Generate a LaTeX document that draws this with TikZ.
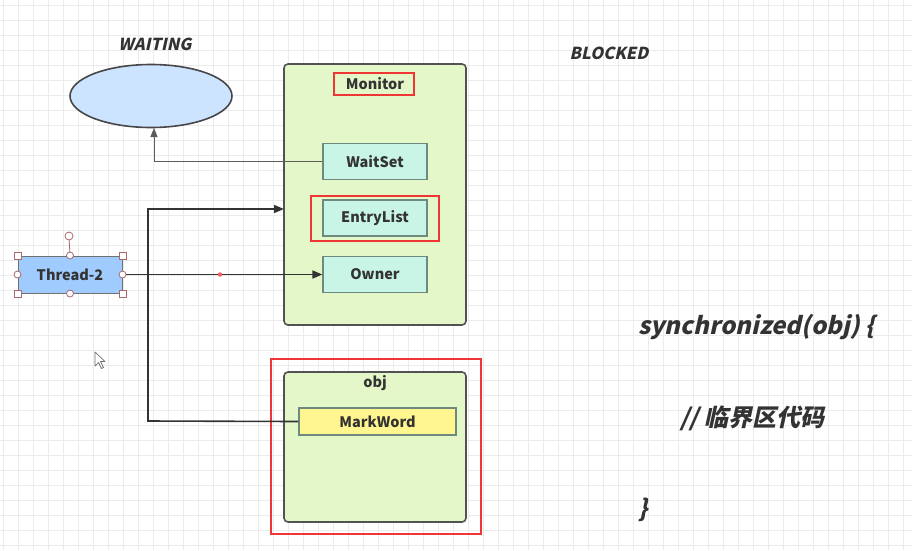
\documentclass[tikz,border=0pt]{standalone}
\usepackage{fontspec}
\setmainfont{Noto Sans CJK SC}
\newfontfamily\slfont{Noto Sans CJK SC}[FakeSlant=0.22]
\usetikzlibrary{shapes.geometric,arrows.meta}
\definecolor{gridc}{HTML}{EBEBEB}
\definecolor{ink}{HTML}{333333}
\definecolor{panelfill}{HTML}{E4F7C9}
\definecolor{mintfill}{HTML}{C8F5E6}
\definecolor{mintline}{HTML}{6E8A7E}
\definecolor{ellfill}{HTML}{CCE4FF}
\definecolor{thrfill}{HTML}{9FCBFF}
\definecolor{yelfill}{HTML}{FFF68F}
\definecolor{hred}{HTML}{F03535}
\definecolor{handle}{HTML}{A86A6A}
\tikzset{
  panel/.style={draw=ink!85, fill=panelfill, line width=1.6pt, rounded corners=4pt, inner sep=0pt},
  mbox/.style={draw=mintline, fill=mintfill, line width=1.3pt, minimum width=104pt, minimum height=36pt, inner sep=0pt, font=\fontsize{14.5}{16}\selectfont\bfseries, text=ink},
  lbl/.style={font=\fontsize{14.5}{16}\selectfont\bfseries, text=ink, inner sep=0pt},
  state/.style={font=\slfont\fontsize{16.5}{18}\selectfont\bfseries, text=ink, inner sep=0pt},
  code/.style={font=\slfont\fontsize{24}{27}\selectfont\bfseries, text=ink, inner sep=0pt, anchor=west},
  hilite/.style={draw=hred, line width=1.8pt, fill=none, inner sep=0pt},
  conn/.style={draw=ink, line width=1.6pt},
  arr/.style={conn, -{Triangle[length=10pt,width=8pt]}},
  thinarr/.style={draw=ink!80, line width=1pt, -{Triangle[length=9pt,width=7pt]}},
  hsq/.style={draw=handle, fill=white, line width=0.8pt, minimum size=7pt, inner sep=0pt},
  hci/.style={draw=handle, fill=white, line width=0.8pt, circle, minimum size=8pt, inner sep=0pt},
}
\begin{document}
\begin{tikzpicture}[x=1pt,y=-1pt]
\useasboundingbox (0,0) rectangle (912,550);
\fill[white] (0,0) rectangle (912,550);
% grid
\foreach \i in {0,...,61} {
  \pgfmathsetmacro{\xx}{3+15*\i}
  \draw[gridc, line width=0.8pt] (\xx,0) -- (\xx,550);
}
\foreach \i in {0,...,37} {
  \pgfmathsetmacro{\yy}{5+15*\i}
  \draw[gridc, line width=0.8pt] (0,\yy) -- (912,\yy);
}

% WAITING state
\node[state] (wt) at (155,44) {WAITING};
\node[ellipse, draw=ink!90, fill=ellfill, line width=1.6pt, minimum width=162pt, minimum height=63pt, inner sep=0pt] (ell) at (151,96) {};
\node[state] (bl) at (609,53) {BLOCKED};

% Monitor
\node[panel, minimum width=182pt, minimum height=261pt] (mon) at (375,194.5) {};
\node[lbl] (monl) at (375,84) {Monitor};
\node[hilite, minimum width=80pt, minimum height=22pt] (monr) at (374,84) {};
\node[mbox] (ws) at (375,161.5) {WaitSet};
\node[mbox] (el) at (375,218) {EntryList};
\node[hilite, minimum width=128pt, minimum height=45pt] (elr) at (375,218.5) {};
\node[mbox] (own) at (375,274.5) {Owner};

% obj
\node[hilite, minimum width=210pt, minimum height=175pt] (objr) at (376,446.5) {};
\node[panel, minimum width=182pt, minimum height=150pt] (obj) at (375,447) {};
\node[lbl] (objl) at (375,383) {obj};
\node[mbox, fill=yelfill, minimum width=157pt, minimum height=27pt] (mw) at (377.5,421.5) {MarkWord};

% Thread-2
\node[draw=ink!70, fill=thrfill, line width=1pt, minimum width=104pt, minimum height=37pt, inner sep=0pt, font=\fontsize{14.5}{16}\selectfont\bfseries, text=ink] (thr) at (70,274.5) {Thread-2};

% connectors
\coordinate (turn) at (148,421);
\coordinate (monin) at (284,209);
\draw[arr] (mw.west) -- (turn) |- (monin);
\draw[arr] (thr.east) -- (own.west);
\fill[hred!80] (220,274.5) circle (2.2pt);
\coordinate (wsup) at (154,128);
\draw[thinarr] (ws.west) -| (wsup);

% selection handles of Thread-2
\draw[handle, line width=0.8pt] (thr.north) -- (69,236);
\node[hci] (rot) at (69,236) {};
\node[hsq] (h1) at (thr.north west) {};
\node[hsq] (h2) at (thr.north east) {};
\node[hsq] (h3) at (thr.south west) {};
\node[hsq] (h4) at (thr.south east) {};
\node[hci, minimum size=7pt] (h5) at (thr.north) {};
\node[hci, minimum size=7pt] (h6) at (thr.south) {};
\node[hci, minimum size=7pt] (h7) at (thr.west) {};
\node[hci, minimum size=7pt] (h8) at (thr.east) {};

% mouse cursor
\draw[ink!70, fill=white, line width=0.7pt, line join=round] (95,352) -- (95,366) -- (98.5,362.5) -- (101.5,368.5) -- (103.5,367.5) -- (100.5,361.5) -- (105,361.5) -- cycle;

% code text
\node[code] (c1) at (638,327) {synchronized(obj) \{};
\node[code] (c2) at (680,418) {// 临界区代码};
\node[code] (c3) at (638,510) {\}};
\end{tikzpicture}
\end{document}
